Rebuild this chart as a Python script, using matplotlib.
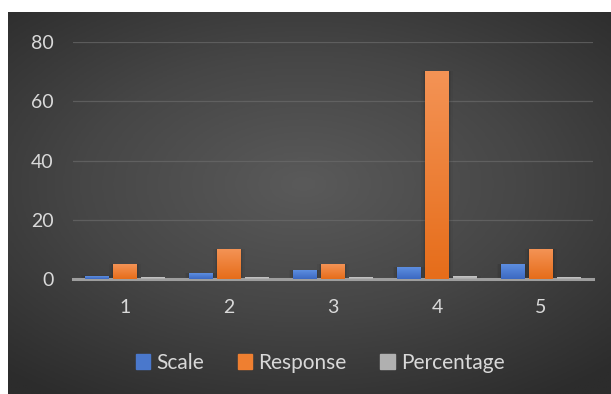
import numpy as np
import matplotlib.pyplot as plt
from matplotlib.colors import LinearSegmentedColormap

categories = ['1', '2', '3', '4', '5']
scale = [1, 2, 3, 4, 5]
response = [5, 10, 5, 70, 10]
percentage = [0.05, 0.1, 0.05, 0.7, 0.1]
yticks = [0, 20, 40, 60, 80]

plt.rcParams['font.family'] = ['Lato', 'DejaVu Sans']

fig = plt.figure(figsize=(6.11, 3.94), dpi=100, facecolor='white')

# dark radial background of the chart card
bg = fig.add_axes([8/611, 0, 603/611, 382/394])
gx, gy = np.meshgrid(np.linspace(-1, 1, 300), np.linspace(-1, 1, 200))
r = np.sqrt(((gx + 0.02) / 1.1)**2 + ((gy + 0.1) / 1.0)**2)
bg_cmap = LinearSegmentedColormap.from_list('bg', ['#5a5a5a', '#464646', '#2c2c2c'])
bg.imshow(r, cmap=bg_cmap, aspect='auto', extent=[0, 1, 0, 1], vmin=0, vmax=1.35)
bg.axis('off')

ax = fig.add_axes([73/611, (394-279.3)/394, 520/611, (279.3-42)/394])
ax.patch.set_alpha(0)

x = np.arange(1, len(categories) + 1)
w = 0.23
step = 0.27

series = [
    (scale, 'Scale', '#4472c4', ('#5d8ee0', '#3c69c2')),
    (response, 'Response', '#ed7d31', ('#f49355', '#e66d1a')),
    (percentage, 'Percentage', '#a5a5a5', ('#c8c8c8', '#a8a8a8')),
]

for i, (vals, name, col, grad) in enumerate(series):
    bars = ax.bar(x + (i - 1) * step, vals, w, color=col, label=name, zorder=3)
    cm = LinearSegmentedColormap.from_list(name, [grad[1], grad[0]])
    for b in bars:
        b.set_alpha(0)
        x0, h = b.get_x(), b.get_height()
        # soft shadow
        for k, a in enumerate([0.06, 0.05, 0.04]):
            d = 0.012 * (k + 1)
            ax.add_patch(plt.Rectangle((x0 - d, 0), b.get_width() + 2 * d, h + d * 8,
                                       color='black', alpha=a, zorder=2, lw=0))
        ax.imshow(np.linspace(0, 1, 100).reshape(-1, 1), cmap=cm, origin='lower',
                  extent=[x0, x0 + b.get_width(), 0, max(h, 0.35)], aspect='auto', zorder=5)

ax.set_xlim(0.5, 5.5)
ax.set_ylim(0, 80)
ax.set_xticks(x)
ax.set_xticklabels(categories)
ax.set_yticks(yticks)

ax.grid(axis='y', color='#6a6a6a', linewidth=0.9, alpha=0.7, zorder=0)
ax.axhline(0, color='#9e9e9e', linewidth=2.2, zorder=4, clip_on=False)

for s in ax.spines.values():
    s.set_visible(False)
ax.tick_params(length=0, colors='#d9d9d9', labelsize=14)
ax.tick_params(axis='x', pad=14)
ax.tick_params(axis='y', pad=14)

handles = [plt.Rectangle((0, 0), 1, 1, color=c) for c in ['#4a78cc', '#ef7f30', '#b0b0b0']]
leg = fig.legend(handles, ['Scale', 'Response', 'Percentage'], loc='center',
                 bbox_to_anchor=(320/611, (394-363)/394), ncol=3, frameon=False,
                 fontsize=15, handlelength=0.7, handleheight=0.7, handletextpad=0.3,
                 columnspacing=1.6, labelcolor='#d9d9d9')

fig.savefig('out.png', dpi=100, facecolor='white')
